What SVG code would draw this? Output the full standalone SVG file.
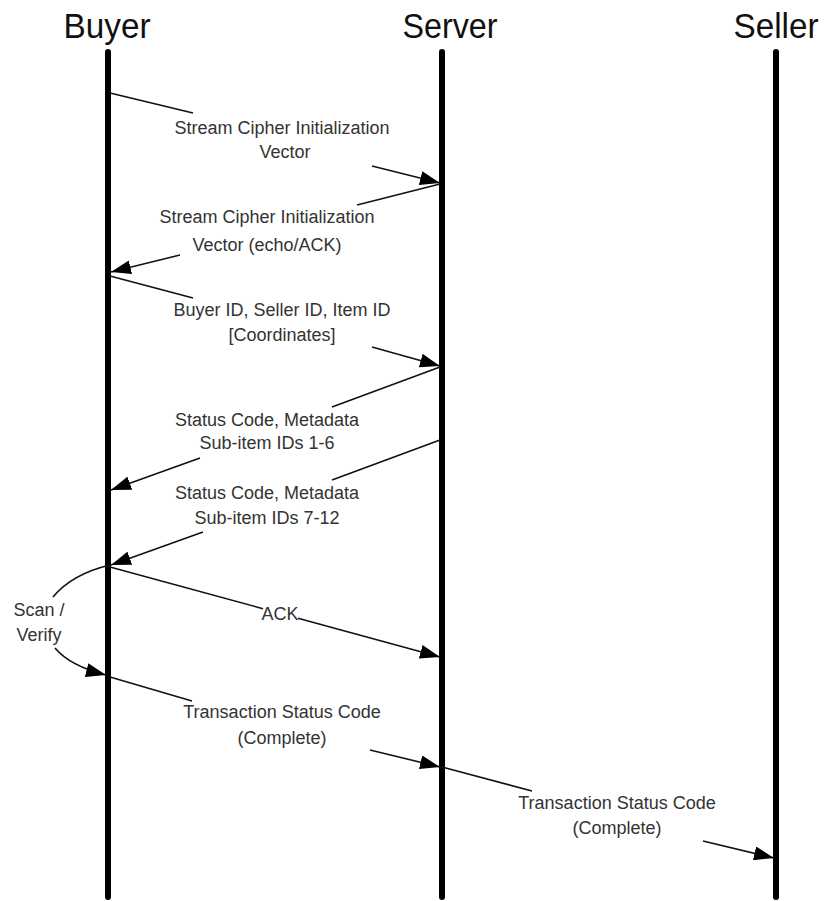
<svg xmlns="http://www.w3.org/2000/svg" width="824" height="901" viewBox="0 0 824 901">
<style>
.hdr{font-family:"Liberation Sans",Arial,sans-serif;font-size:35px;fill:#111;text-anchor:middle}
.lbl{font-family:"Liberation Sans",Arial,sans-serif;font-size:18px;fill:#333;text-anchor:middle}
.life{stroke:#000;stroke-width:6;stroke-linecap:round}
.msg{stroke:#111;stroke-width:1.6;fill:none}
</style>
<defs>
<marker id="ah" markerWidth="22" markerHeight="14" refX="20" refY="7" orient="auto" markerUnits="userSpaceOnUse">
<path d="M0,0 L20,7 L0,14 Z" fill="#000"/>
</marker>
</defs>
<g id="buyer"><text class="hdr" x="107" y="38" textLength="87" lengthAdjust="spacingAndGlyphs">Buyer</text><line class="life" x1="108" y1="52" x2="108" y2="897"/></g>
<g id="server"><text class="hdr" x="450" y="38" textLength="95" lengthAdjust="spacingAndGlyphs">Server</text><line class="life" x1="442" y1="52" x2="442" y2="897"/></g>
<g id="seller"><text class="hdr" x="776" y="38" textLength="85" lengthAdjust="spacingAndGlyphs">Seller</text><line class="life" x1="776" y1="52" x2="776" y2="897"/></g>
<g id="connectors">
<line class="msg" x1="110" y1="93" x2="193" y2="113"/>
<line class="msg" x1="372" y1="166" x2="440" y2="183" marker-end="url(#ah)"/>
<line class="msg" x1="440" y1="184" x2="357" y2="205"/>
<line class="msg" x1="180" y1="255" x2="111" y2="272" marker-end="url(#ah)"/>
<line class="msg" x1="110" y1="276" x2="193" y2="298"/>
<line class="msg" x1="372" y1="347" x2="440" y2="366" marker-end="url(#ah)"/>
<line class="msg" x1="440" y1="367" x2="332" y2="407"/>
<line class="msg" x1="200" y1="458" x2="111" y2="490" marker-end="url(#ah)"/>
<line class="msg" x1="440" y1="440" x2="332" y2="480"/>
<line class="msg" x1="203" y1="532" x2="111" y2="565" marker-end="url(#ah)"/>
<path class="msg" d="M110,565 Q72,574 53,597"/>
<path class="msg" d="M55,648 Q70,666 106,675" marker-end="url(#ah)"/>
<line class="msg" x1="110" y1="567" x2="263" y2="608.7"/>
<line class="msg" x1="298" y1="618.3" x2="440" y2="657" marker-end="url(#ah)"/>
<line class="msg" x1="110" y1="677" x2="192" y2="701"/>
<line class="msg" x1="370" y1="750" x2="440" y2="767" marker-end="url(#ah)"/>
<line class="msg" x1="442" y1="767" x2="532" y2="791"/>
<line class="msg" x1="703" y1="841" x2="774" y2="858" marker-end="url(#ah)"/>
</g>
<g id="labels">
<text class="lbl" x="282" y="134">Stream Cipher Initialization</text>
<text class="lbl" x="285" y="158">Vector</text>
<text class="lbl" x="267" y="223">Stream Cipher Initialization</text>
<text class="lbl" x="267" y="251">Vector (echo/ACK)</text>
<text class="lbl" x="282" y="316">Buyer ID, Seller ID, Item ID</text>
<text class="lbl" x="282" y="341">[Coordinates]</text>
<text class="lbl" x="267" y="426">Status Code, Metadata</text>
<text class="lbl" x="267" y="449">Sub-item IDs 1-6</text>
<text class="lbl" x="267" y="499">Status Code, Metadata</text>
<text class="lbl" x="267" y="524">Sub-item IDs 7-12</text>
<text class="lbl" x="39" y="616">Scan /</text>
<text class="lbl" x="39" y="641">Verify</text>
<text class="lbl" x="280" y="620">ACK</text>
<text class="lbl" x="282" y="718">Transaction Status Code</text>
<text class="lbl" x="282" y="744">(Complete)</text>
<text class="lbl" x="617" y="809">Transaction Status Code</text>
<text class="lbl" x="617" y="834">(Complete)</text>
</g>
</svg>
